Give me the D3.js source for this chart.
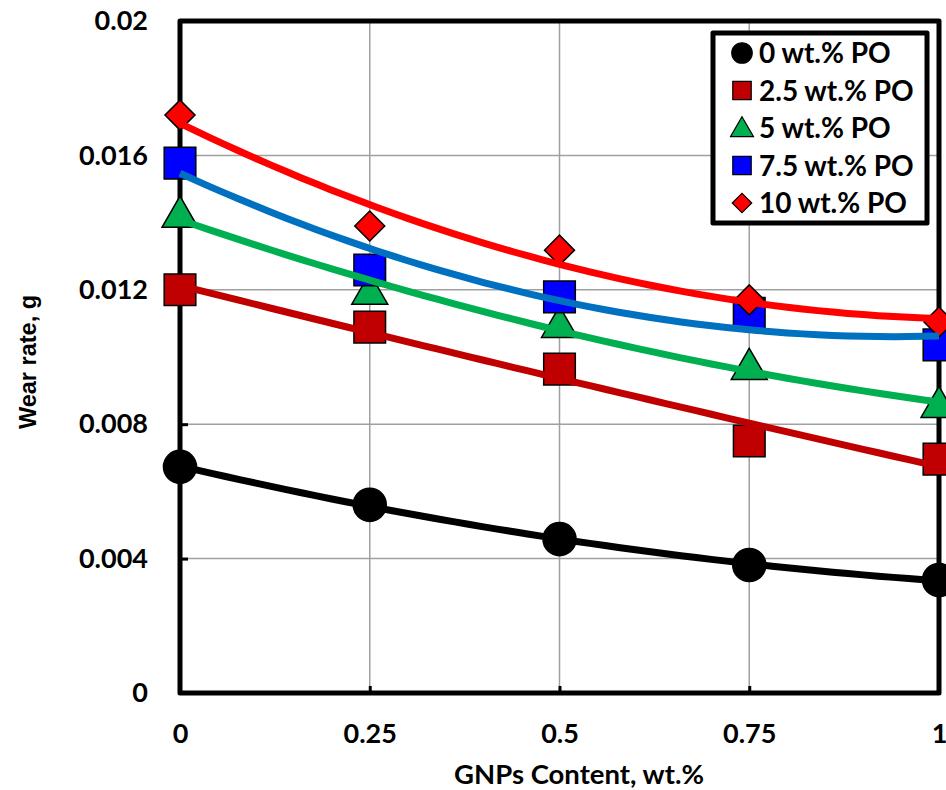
<!DOCTYPE html>
<html>
<head>
<meta charset="utf-8">
<script src="https://cdn.jsdelivr.net/npm/d3@7"></script>
<style>
  body { margin: 0; background: #fff; }
  svg { display: block; }
</style>
</head>
<body>
<div id="chart"></div>
<script>
// GNPs content (wt.%)
const gnp = [0, 0.25, 0.5, 0.75, 1];

// wear rate (g) for each PO content
const po0   = [0.00673, 0.00560, 0.00458, 0.00381, 0.00336];
const po2_5 = [0.01200, 0.01089, 0.00964, 0.00750, 0.00696];
const po5   = [0.01423, 0.01194, 0.01095, 0.00970, 0.00857];
const po7_5 = [0.01577, 0.01259, 0.01179, 0.01130, 0.01036];
const po10  = [0.01720, 0.01390, 0.01318, 0.01170, 0.01104];

const seriesNames = ["0 wt.% PO", "2.5 wt.% PO", "5 wt.% PO", "7.5 wt.% PO", "10 wt.% PO"];
const xTicks = [0, 0.25, 0.5, 0.75, 1];
const yTicks = [0, 0.004, 0.008, 0.012, 0.016, 0.02];

const series = [
    {name: seriesNames[0], values: po0,   shape: "circle",   fill: "#000000", line: "#000000"},
    {name: seriesNames[1], values: po2_5, shape: "square",   fill: "#C00000", line: "#C00000"},
    {name: seriesNames[2], values: po5,   shape: "triangle", fill: "#00B050", line: "#00B050"},
    {name: seriesNames[3], values: po7_5, shape: "square",   fill: "#0000FF", line: "#0070C0"},
    {name: seriesNames[4], values: po10,  shape: "diamond",  fill: "#FF0000", line: "#FF0000"}
];

const W = 946, H = 790;
const plot = {left: 180, right: 939, top: 21, bottom: 693};
const font = "Lato, 'Open Sans', sans-serif";

const x = d3.scaleLinear().domain([0, 1]).range([plot.left, plot.right]);
const y = d3.scaleLinear().domain([0, 0.02]).range([plot.bottom, plot.top]);

const svg = d3.select("#chart").append("svg")
    .attr("width", W)
    .attr("height", H);

// gridlines
svg.append("g").selectAll("line")
    .data(yTicks.slice(1, -1))
    .join("line")
    .attr("x1", plot.left).attr("x2", plot.right)
    .attr("y1", d => y(d)).attr("y2", d => y(d))
    .attr("stroke", "#a0a0a0").attr("stroke-width", 1.5);

svg.append("g").selectAll("line")
    .data(xTicks.slice(1, -1))
    .join("line")
    .attr("x1", d => x(d)).attr("x2", d => x(d))
    .attr("y1", plot.top).attr("y2", plot.bottom)
    .attr("stroke", "#a0a0a0").attr("stroke-width", 1.5);

// axes (inward ticks)
const yAxis = svg.append("g")
    .attr("transform", `translate(${plot.left},0)`)
    .call(d3.axisLeft(y).tickValues(yTicks).tickFormat(d => d3.format("")(+d.toFixed(3)))
        .tickSizeInner(-8).tickSizeOuter(0).tickPadding(32));

const xAxis = svg.append("g")
    .attr("transform", `translate(0,${plot.bottom})`)
    .call(d3.axisBottom(x).tickValues(xTicks).tickFormat(d => d3.format("")(d))
        .tickSizeInner(-7).tickSizeOuter(0).tickPadding(31));

[yAxis, xAxis].forEach(a => {
    a.select(".domain").remove();
    a.selectAll(".tick line").attr("stroke", "#000").attr("stroke-width", 3);
    a.selectAll("text")
        .attr("font-family", font)
        .attr("font-weight", "bold")
        .attr("font-size", 27)
        .attr("fill", "#000");
});

// frame
svg.append("rect")
    .attr("x", plot.left).attr("y", plot.top)
    .attr("width", plot.right - plot.left).attr("height", plot.bottom - plot.top)
    .attr("fill", "none")
    .attr("stroke", "#000").attr("stroke-width", 5)
    .attr("stroke-linejoin", "round");

// marker symbols
function symbolPath(shape, size) {
    const types = {
        circle: d3.symbolCircle,
        square: d3.symbolSquare,
        triangle: d3.symbolTriangle,
        diamond: d3.symbolSquare
    };
    return d3.symbol().type(types[shape]).size(size)();
}
const markerSize = {circle: 860, square: 1000, triangle: 560, diamond: 450};
const legendSize = {circle: 330, square: 340, triangle: 230, diamond: 190};

function placeMarker(sel, shape, cx, cy) {
    let t = `translate(${cx},${cy})`;
    if (shape === "diamond") t += " rotate(45)";
    if (shape === "triangle") t += " translate(0,2)";
    sel.attr("transform", t);
}

const markers = svg.append("g");
series.forEach(s => {
    markers.selectAll(null)
        .data(s.values)
        .join("path")
        .attr("d", symbolPath(s.shape, markerSize[s.shape]))
        .attr("fill", s.fill)
        .attr("stroke", "#000")
        .attr("stroke-width", 1.5)
        .each(function(d, i) { placeMarker(d3.select(this), s.shape, x(gnp[i]), y(d)); });
});

// quadratic trendlines fitted to each series
function quadFit(xs, ys) {
    let n = xs.length, s = [0, 0, 0, 0, 0], t = [0, 0, 0];
    for (let i = 0; i < n; i++) {
        let p = 1;
        for (let k = 0; k < 5; k++) { s[k] += p; if (k < 3) t[k] += p * ys[i]; p *= xs[i]; }
    }
    const A = [[s[0], s[1], s[2], t[0]], [s[1], s[2], s[3], t[1]], [s[2], s[3], s[4], t[2]]];
    for (let c = 0; c < 3; c++) {
        for (let r = c + 1; r < 3; r++) {
            const f = A[r][c] / A[c][c];
            for (let k = c; k < 4; k++) A[r][k] -= f * A[c][k];
        }
    }
    const b = [0, 0, 0];
    for (let r = 2; r >= 0; r--) {
        let v = A[r][3];
        for (let k = r + 1; k < 3; k++) v -= A[r][k] * b[k];
        b[r] = v / A[r][r];
    }
    return v => b[0] + b[1] * v + b[2] * v * v;
}

const line = d3.line().x(d => x(d[0])).y(d => y(d[1]));
const lines = svg.append("g");
series.forEach(s => {
    const f = quadFit(gnp, s.values);
    const pts = d3.range(0, 1.0001, 0.02).map(v => [v, f(v)]);
    lines.append("path")
        .attr("d", line(pts))
        .attr("fill", "none")
        .attr("stroke", s.line)
        .attr("stroke-width", 7);
});

// legend
const lg = svg.append("g");
lg.append("rect")
    .attr("x", 713).attr("y", 33)
    .attr("width", 214).attr("height", 190)
    .attr("fill", "#fff")
    .attr("stroke", "#000").attr("stroke-width", 5)
    .attr("stroke-linejoin", "round");

series.forEach((s, i) => {
    const cy = 53 + i * 37.5;
    lg.append("path")
        .attr("d", symbolPath(s.shape, legendSize[s.shape]))
        .attr("fill", s.fill)
        .attr("stroke", "#000")
        .attr("stroke-width", 1.2)
        .call(sel => placeMarker(sel, s.shape, 742, cy));
    lg.append("text")
        .attr("x", 759).attr("y", cy)
        .attr("dy", "0.36em")
        .attr("font-family", font)
        .attr("font-weight", "bold")
        .attr("font-size", 28)
        .text(s.name);
});

// axis titles
svg.append("text")
    .attr("x", 579)
    .attr("y", 784)
    .attr("text-anchor", "middle")
    .attr("font-family", font)
    .attr("font-weight", "bold")
    .attr("font-size", 27.5)
    .text("GNPs Content, wt.%");

svg.append("text")
    .attr("transform", "translate(36,362) rotate(-90)")
    .attr("text-anchor", "middle")
    .attr("font-family", "'Liberation Sans', Arial, sans-serif")
    .attr("font-weight", "bold")
    .attr("font-size", 23.5)
    .text("Wear rate, g");
</script>
</body>
</html>
